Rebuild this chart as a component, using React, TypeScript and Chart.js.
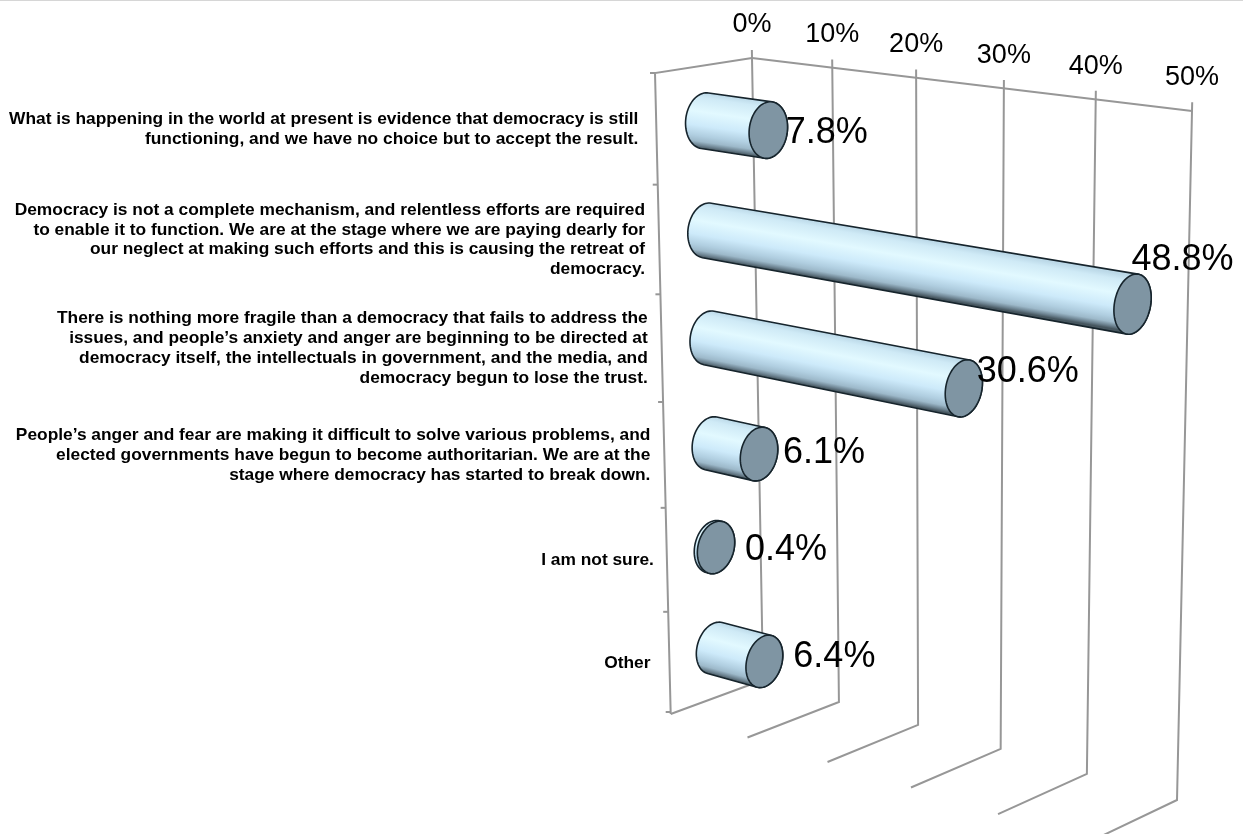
import { useEffect, useRef } from "react";
import { Chart, registerables } from "chart.js";

Chart.register(...registerables);

// Survey answers, top to bottom, broken into the lines they are set on.
const categories: string[][] = [
  [
    "What is happening in the world at present is evidence that democracy is still",
    "functioning, and we have no choice but to accept the result.",
  ],
  [
    "Democracy is not a complete mechanism, and relentless efforts are required",
    "to enable it to function. We are at the stage where we are paying dearly for",
    "our neglect at making such efforts and this is causing the retreat of",
    "democracy.",
  ],
  [
    "There is nothing more fragile than a democracy that fails to address the",
    "issues, and people’s anxiety and anger are beginning to be directed at",
    "democracy itself, the intellectuals in government, and the media, and",
    "democracy begun to lose the trust.",
  ],
  [
    "People’s anger and fear are making it difficult to solve various problems, and",
    "elected governments have begun to become authoritarian. We are at the",
    "stage where democracy has started to break down.",
  ],
  ["I am not sure."],
  ["Other"],
];

const shares: number[] = [7.8, 48.8, 30.6, 6.1, 0.4, 6.4];

const axisMax = 50;
const axisStep = 10;

type Pt = [number, number];
type Plane = (s: number, t: number) => Pt;

// Projective map from the unit square onto a quadrilateral (TL, TR, BR, BL).
function planeFrom([p0, p1, p2, p3]: Pt[]): Plane {
  const dx1 = p1[0] - p2[0];
  const dx2 = p3[0] - p2[0];
  const sx = p0[0] - p1[0] + p2[0] - p3[0];
  const dy1 = p1[1] - p2[1];
  const dy2 = p3[1] - p2[1];
  const sy = p0[1] - p1[1] + p2[1] - p3[1];
  const den = dx1 * dy2 - dx2 * dy1;
  const g = (sx * dy2 - dx2 * sy) / den;
  const h = (dx1 * sy - sx * dy1) / den;
  const a = p1[0] - p0[0] + g * p1[0];
  const b = p3[0] - p0[0] + h * p3[0];
  const d = p1[1] - p0[1] + g * p1[1];
  const e = p3[1] - p0[1] + h * p3[1];
  return (s, t) => {
    const w = g * s + h * t + 1;
    return [(a * s + b * t + p0[0]) / w, (d * s + e * t + p0[1]) / w];
  };
}

// The three planes of the 3-D box: rear wall, front edge, and the plane the cylinder axes run in.
const backWall = planeFrom([[752, 58], [1192, 111], [1177, 800], [763, 680]]);
const frontWall = planeFrom([[655, 73], [1097, 133], [1089, 842], [670.7, 714]]);
const barPlane = planeFrom([[703.8, 65], [1148, 125], [1133, 815], [715.8, 698]]);

const depthRadius = 0.2;
const gridColor = "#979797";
const outlineColor = "#16242c";
const capColor = "#7f95a3";
const sansFont = '"Liberation Sans", Arial, sans-serif';

// Per-label nudges for the value text and right-hand gaps of the answer text.
const valueLabelNudge: Pt[] = [[58.5, 3], [50, -44], [64, -16], [65, -1], [70, 3], [70, -4]];
const categoryGap: number[] = [18, 14, 14, 14, 13, 19];

function cylinder(ctx: CanvasRenderingContext2D, s0: number, s1: number, t: number, rv: number) {
  const frame = (s: number) => {
    const c = barPlane(s, t);
    const up = barPlane(s, t - rv);
    const dn = barPlane(s, t + rv);
    const bk = backWall(s, t);
    const fr = frontWall(s, t);
    const A: Pt = [(dn[0] - up[0]) / 2, (dn[1] - up[1]) / 2];
    const B: Pt = [(fr[0] - bk[0]) * depthRadius, (fr[1] - bk[1]) * depthRadius];
    return (a: number): Pt => [
      c[0] + Math.cos(a) * A[0] + Math.sin(a) * B[0],
      c[1] + Math.cos(a) * A[1] + Math.sin(a) * B[1],
    ];
  };
  const c0 = barPlane(s0, t);
  const c1 = barPlane(s1, t);
  const dx = c1[0] - c0[0];
  const dy = c1[1] - c0[1];
  const len = Math.hypot(dx, dy) || 1;
  const ux = dx / len;
  const uy = dy / len;

  const base = frame(s0);
  const end = frame(s1);
  const A: Pt = [base(0)[0] - c0[0], base(0)[1] - c0[1]];
  const B: Pt = [base(Math.PI / 2)[0] - c0[0], base(Math.PI / 2)[1] - c0[1]];
  const th = Math.atan2(B[0] * uy - B[1] * ux, A[0] * uy - A[1] * ux);

  // Half of the rear rim lies on the far side from the cap: pick that one.
  const mid = base(th + Math.PI / 2);
  const sign = (mid[0] - c0[0]) * ux + (mid[1] - c0[1]) * uy < 0 ? 1 : -1;
  const steps = 40;

  ctx.beginPath();
  for (let i = 0; i <= steps; i++) {
    const p = base(th + (sign * Math.PI * i) / steps);
    if (i === 0) ctx.moveTo(p[0], p[1]);
    else ctx.lineTo(p[0], p[1]);
  }
  for (let i = 0; i <= steps; i++) {
    const p = end(th + sign * Math.PI + (sign * Math.PI * i) / steps);
    ctx.lineTo(p[0], p[1]);
  }
  ctx.closePath();

  const nx = -uy;
  const ny = ux;
  const edge = base(th);
  const reach = Math.abs((edge[0] - c0[0]) * nx + (edge[1] - c0[1]) * ny);
  const grad = ctx.createLinearGradient(c1[0] - nx * reach, c1[1] - ny * reach, c1[0] + nx * reach, c1[1] + ny * reach);
  grad.addColorStop(0, "#bcd9e8");
  grad.addColorStop(0.1, "#cfeaf6");
  grad.addColorStop(0.35, "#e2f9ff");
  grad.addColorStop(0.6, "#cdeafa");
  grad.addColorStop(0.78, "#b0cee0");
  grad.addColorStop(0.88, "#9db9ca");
  grad.addColorStop(0.95, "#6d8391");
  grad.addColorStop(1, "#46565f");
  ctx.fillStyle = grad;
  ctx.fill();
  ctx.strokeStyle = outlineColor;
  ctx.lineWidth = 1.6;
  ctx.stroke();

  ctx.beginPath();
  for (let i = 0; i <= steps * 2; i++) {
    const p = end((Math.PI * i) / steps);
    if (i === 0) ctx.moveTo(p[0], p[1]);
    else ctx.lineTo(p[0], p[1]);
  }
  ctx.closePath();
  ctx.fillStyle = capColor;
  ctx.fill();
  ctx.stroke();
}

// Draws the box, ticks and labels in perspective from the chart's own scales.
const perspectivePlugin = {
  id: "perspectiveBox",
  beforeDatasetsDraw(chart: any) {
    const { ctx, scales } = chart;
    const x = scales.x;
    const y = scales.y;
    const sOf = (v: number) => (x.getPixelForValue(v) - x.left) / x.width;
    const tOf = (i: number) => (y.getPixelForValue(i - 0.5) - y.top) / y.height;

    ctx.save();
    ctx.fillStyle = "#d6d6d6";
    ctx.fillRect(0, 0, chart.width, 1);

    ctx.strokeStyle = gridColor;
    ctx.lineWidth = 2;
    ctx.lineJoin = "miter";
    const seg = (pts: Pt[]) => {
      ctx.beginPath();
      pts.forEach((p, i) => (i ? ctx.lineTo(p[0], p[1]) : ctx.moveTo(p[0], p[1])));
      ctx.stroke();
    };

    x.ticks.forEach((tick: any) => {
      const s = sOf(tick.value);
      seg([backWall(s, -0.012), backWall(s, 1), frontWall(s, 1)]);
    });
    seg([backWall(0, 0), backWall(1, 0)]);
    seg([backWall(0, 0), frontWall(0, 0), frontWall(0, 1)]);

    categories.forEach((_, i) => {
      const t0 = tOf(i);
      const p = frontWall(0, t0);
      seg([[p[0] - 5, p[1]], p]);
    });
    const pEnd = frontWall(0, 1);
    seg([[pEnd[0] - 5, pEnd[1] - 2], [pEnd[0], pEnd[1] - 2]]);

    ctx.fillStyle = "#000";
    ctx.textAlign = "center";
    ctx.textBaseline = "middle";
    ctx.font = `27px ${sansFont}`;
    x.ticks.forEach((tick: any) => {
      const p = backWall(sOf(tick.value), 0);
      ctx.fillText(tick.label, p[0], p[1] - 33);
    });

    ctx.font = `bold 17.35px ${sansFont}`;
    ctx.textAlign = "right";
    y.ticks.forEach((tick: any, i: number) => {
      const t = (y.getPixelForTick(i) - y.top) / y.height;
      const p = frontWall(0, t);
      const lines: string[] = Array.isArray(tick.label) ? tick.label : [tick.label];
      const lineHeight = 19.9;
      lines.forEach((line, k) => {
        ctx.fillText(line, p[0] - categoryGap[i], p[1] + (k - (lines.length - 1) / 2) * lineHeight);
      });
    });
    ctx.restore();
  },
  afterDatasetsDraw(chart: any) {
    const { ctx, scales } = chart;
    const x = scales.x;
    const y = scales.y;
    const meta = chart.getDatasetMeta(0);
    ctx.save();
    meta.data.forEach((bar: any) => {
      const s0 = (bar.base - x.left) / x.width;
      const s1 = (bar.x - x.left) / x.width;
      const t = (bar.y - y.top) / y.height;
      const rv = bar.height / 2 / y.height;
      cylinder(ctx, s0, s1, t, rv);
    });
    ctx.fillStyle = "#000";
    ctx.textAlign = "center";
    ctx.textBaseline = "middle";
    ctx.font = `36px ${sansFont}`;
    meta.data.forEach((bar: any, i: number) => {
      const s1 = (bar.x - x.left) / x.width;
      const t = (bar.y - y.top) / y.height;
      const c = barPlane(s1, t);
      ctx.fillText(`${shares[i].toFixed(1)}%`, c[0] + valueLabelNudge[i][0], c[1] + valueLabelNudge[i][1]);
    });
    ctx.restore();
  },
};

export default function App() {
  const canvasRef = useRef<HTMLCanvasElement | null>(null);

  useEffect(() => {
    const chart = new Chart(canvasRef.current as HTMLCanvasElement, {
      type: "bar",
      data: {
        labels: categories as any,
        datasets: [
          {
            data: shares,
            backgroundColor: "rgba(0,0,0,0)",
            borderWidth: 0,
            barPercentage: 0.5,
            categoryPercentage: 1,
          },
        ],
      },
      options: {
        indexAxis: "y",
        responsive: false,
        animation: false,
        layout: { padding: 0 },
        plugins: { legend: { display: false }, tooltip: { enabled: false } },
        scales: {
          x: {
            display: false,
            min: 0,
            max: axisMax,
            ticks: { stepSize: axisStep, callback: (v: any) => `${v}%` },
          },
          y: { display: false, ticks: { autoSkip: false } },
        },
      },
      plugins: [perspectivePlugin],
    } as any);
    return () => chart.destroy();
  }, []);

  return (
    <div style={{ position: "absolute", left: 0, top: 0, background: "#fff" }}>
      <canvas ref={canvasRef} width={1243} height={834} style={{ display: "block" }} />
    </div>
  );
}
